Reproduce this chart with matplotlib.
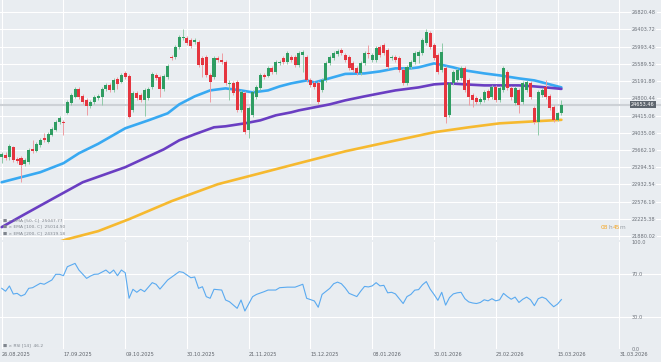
import numpy as np
import matplotlib
matplotlib.use("Agg")
import matplotlib.pyplot as plt
import matplotlib.transforms as mtrans
from matplotlib.ticker import NullLocator

# ---------------- data ----------------
dates = ['26.08.2025', '17.09.2025', '09.10.2025', '30.10.2025', '21.11.2025', '15.12.2025',
         '08.01.2026', '30.01.2026', '23.02.2026', '15.03.2026', '31.03.2026']
date_pos = [0, 16, 32, 48, 64, 80, 96, 112, 128, 144, 160]

open_ = [23507, 23550, 23507, 23721, 23464, 23486, 23358, 23401, 23678, 23635,
         23764, 23916, 23829, 23981, 24090, 24265, 24265, 24465, 24688, 24823,
         25003, 24845, 24755, 24621, 24710, 24800, 24823, 25003, 25094, 24980,
         25231, 25162, 25369, 25300, 24531, 24913, 24868, 24755, 24800, 25048,
         25323, 25277, 25003, 25277, 25740, 25740, 25975, 26188, 26188, 26140,
         26093, 26093, 25717, 25740, 25323, 25277, 25717, 25670, 25624, 25117,
         25140, 25162, 24531, 24913, 24090, 24420, 24823, 25026, 25323, 25300,
         25485, 25392, 25601, 25717, 25624, 25740, 25740, 25554, 25787, 25740,
         25208, 25140, 25140, 24980, 25208, 25601, 25717, 25811, 25904, 25787,
         25740, 25601, 25485, 25369, 25601, 25834, 25670, 25670, 25975, 26022,
         25904, 25717, 25740, 25717, 25438, 25140, 25508, 25624, 25764, 25834,
         26069, 26307, 26022, 25787, 25438, 25485, 24420, 25140, 25208, 25254,
         25485, 25208, 24868, 24800, 24710, 24755, 24958, 24823, 25048, 24755,
         24980, 25392, 25026, 24688, 24980, 24710, 24980, 25140, 24576, 24265,
         24868, 25048, 24845, 24598, 24309, 24465]
high = [23613, 23613, 23786, 23742, 23507, 23528, 23486, 23699, 23872, 23829,
        23916, 24025, 24047, 24156, 24309, 24398, 24309, 24755, 24913, 25048,
        25048, 24890, 24800, 24755, 24868, 24890, 25048, 25140, 25140, 25254,
        25277, 25369, 25415, 25346, 24958, 24958, 24913, 25026, 25048, 25392,
        25369, 25323, 25346, 25577, 25787, 26022, 26260, 26403, 26236, 26188,
        26188, 26140, 25764, 25787, 25369, 25764, 25764, 25834, 25670, 25208,
        25185, 25208, 24980, 24958, 24621, 24980, 25094, 25369, 25369, 25531,
        25531, 25670, 25670, 25764, 25881, 25787, 25787, 25881, 25904, 25787,
        25254, 25185, 25185, 25254, 25647, 25787, 25881, 25928, 25951, 25834,
        25787, 25647, 25531, 25647, 25881, 26022, 25834, 25998, 26022, 26069,
        25951, 25787, 25787, 25764, 25485, 25554, 25670, 25881, 25904, 26188,
        26403, 26355, 26069, 25834, 26069, 25531, 25162, 25438, 25485, 25531,
        25531, 25254, 24913, 24845, 24823, 24980, 25003, 25094, 25094, 25071,
        25531, 25438, 25071, 25071, 25026, 25185, 25208, 25185, 24621, 24980,
        25026, 25208, 24890, 24643, 24487, 24755]
low = [23379, 23443, 23443, 23401, 23379, 22979, 23316, 23358, 23592, 23613,
       23721, 23829, 23807, 23959, 24069, 24222, 23981, 24443, 24643, 24800,
       24778, 24665, 24420, 24576, 24665, 24755, 24643, 24958, 24935, 24935,
       25003, 25140, 25231, 24354, 24487, 24755, 24710, 24398, 24755, 25003,
       25208, 24823, 24958, 25231, 25670, 25694, 25928, 26140, 26022, 25951,
       26045, 25508, 25277, 25277, 24710, 25231, 25624, 25577, 25094, 24755,
       24868, 24487, 24487, 24003, 23916, 24376, 24778, 24980, 25231, 25277,
       25346, 25346, 25554, 25577, 25577, 25624, 25508, 25508, 25392, 25162,
       25048, 25003, 24665, 24935, 25162, 25554, 25670, 25764, 25787, 25624,
       25438, 25392, 25323, 25323, 25554, 25717, 25624, 25624, 25740, 25787,
       25461, 25670, 25624, 25392, 25094, 25094, 25461, 25577, 25601, 25787,
       26022, 25928, 25670, 25346, 25392, 24243, 24376, 25094, 25162, 25208,
       24935, 24643, 24598, 24665, 24665, 24710, 24755, 24778, 24710, 24710,
       24935, 24980, 24755, 24643, 24465, 24665, 24935, 24778, 24222, 23981,
       24823, 24778, 24531, 24265, 24287, 24420]
close = [23571, 23486, 23742, 23443, 23422, 23337, 23443, 23656, 23635, 23786,
         23872, 23872, 24003, 24112, 24265, 24354, 24243, 24710, 24868, 25003,
         24823, 24710, 24621, 24710, 24823, 24845, 25003, 25094, 24980, 25208,
         25117, 25323, 25277, 24376, 24913, 24800, 24755, 24980, 25003, 25346,
         25254, 25003, 25300, 25531, 25717, 25975, 26212, 26212, 26069, 25998,
         26140, 25554, 25554, 25323, 25162, 25717, 25670, 25624, 25140, 25140,
         24913, 24531, 24935, 24047, 24576, 24935, 25048, 25323, 25277, 25485,
         25392, 25624, 25624, 25624, 25834, 25670, 25554, 25834, 25857, 25208,
         25094, 25048, 24710, 25208, 25601, 25740, 25834, 25881, 25834, 25670,
         25485, 25438, 25369, 25601, 25834, 25811, 25787, 25951, 25787, 25834,
         25508, 25740, 25670, 25438, 25140, 25508, 25624, 25834, 25857, 26140,
         26331, 25975, 25717, 25392, 25857, 24376, 25140, 25392, 25438, 25485,
         24980, 24823, 24755, 24710, 24778, 24935, 24800, 25048, 24755, 25026,
         25485, 25026, 24823, 25026, 24643, 25140, 25162, 24823, 24265, 24935,
         24980, 24823, 24576, 24309, 24465, 24653.46]
last_price = 24653.46

ema50_idx = [0, 5, 10, 16, 20, 25, 32, 38, 43, 46, 50, 54, 58, 62, 65, 69, 72, 75, 79, 81,
             83, 89, 94, 98, 102, 106, 108, 112, 114, 117, 120, 125, 129, 134, 138, 141, 145]
ema50 = [22979, 23084, 23189, 23380, 23592, 23796, 24134, 24309, 24465, 24665,
         24845, 24980, 25026, 24980, 24935, 24980, 25071, 25140, 25208, 25162,
         25208, 25357, 25369, 25415, 25485, 25485, 25508, 25601, 25566, 25508,
         25438, 25369, 25323, 25254, 25208, 25140, 25048]
ema100_idx = [0, 6, 13, 21, 32, 42, 46, 50, 55, 58, 63, 67, 71, 75, 77, 81, 85, 89, 94, 98,
              102, 108, 112, 116, 120, 125, 129, 134, 138, 141, 145]
ema100 = [22060, 22322, 22627, 22979, 23295, 23677, 23872, 24003, 24156, 24178,
          24243, 24309, 24420, 24487, 24531, 24598, 24665, 24755, 24845, 24913,
          24980, 25048, 25117, 25140, 25117, 25094, 25094, 25094, 25071, 25048, 25014]
ema200_idx = [0, 12, 17, 25, 33, 44, 56, 67, 77, 89, 98, 106, 112, 121, 129, 138, 145]
ema200 = [21466, 21701, 21820, 21980, 22220, 22587, 22938, 23168, 23380, 23634,
          23796, 23938, 24047, 24156, 24243, 24287, 24320]

rsi_idx = [0, 1, 2, 3, 4, 5, 6, 7, 8, 10,
           11, 13, 14, 15, 16, 17, 19, 20, 22, 23,
           24, 25, 27, 28, 29, 30, 31, 32, 33, 34,
           35, 36, 37, 39, 40, 41, 43, 46, 47, 49,
           50, 51, 52, 53, 54, 55, 57, 58, 59, 61,
           62, 63, 65, 66, 68, 69, 71, 72, 74, 76,
           78, 79, 81, 82, 83, 85] + list(range(86, 146))
rsi = [56.7, 54, 58.9, 51.4, 52, 49.5, 51, 56.7, 57.3, 61.4,
       60.5, 64.5, 69.8, 69.8, 68.5, 76.9, 80, 73.8, 66, 68.2,
       69.8, 70, 73.8, 70.7, 73.8, 68.5, 73.8, 71.3, 47.4, 55.8,
       53, 55.8, 53.6, 62, 60.5, 56, 64.5, 72.3, 71.6, 66.6,
       67.3, 56.7, 58.2, 48.9, 47.4, 55.8, 55.1, 45.8, 44.2, 38,
       45.8, 35.5, 48.9, 51, 53.6, 55.1, 55.1, 57.3, 57.8, 57.8,
       60.5, 47.4, 44.9, 39, 51, 56.7,
       61, 62.5, 61, 57, 52, 50.5, 49, 54, 58.5, 58,
       59, 62, 59, 59.5, 52.5, 53, 51.5, 47, 42.5, 49,
       51, 55, 55.5, 60, 63, 56, 51, 45.5, 53, 41,
       48, 51.5, 52.5, 53, 47, 44, 43, 42.5, 43.5, 46,
       45, 47, 45, 46, 52, 49, 46.5, 48.5, 43.5, 46.5,
       48.5, 46, 40.5, 47, 48.5, 47, 43, 39.5, 42, 46.2]

price_ticks = [26820.48, 26403.72, 25993.43, 25589.52, 25191.89, 24800.44, 24415.06,
               24035.08, 23662.19, 23294.51, 22932.54, 22576.19, 22225.38, 21880.02]
rsi_ticks = [0, 30, 70, 100]

legend_rows = ['■ × EMA [50, C]  25047.77', '■ × EMA [100, C]  25014.90', '■ × EMA [200, C]  24319.18']
rsi_legend = '■ × RSI [14]  46.2'

# ---------------- layout ----------------
W, H = 661, 362
BG = '#e9edf1'
GREEN = '#2f9d62'
RED = '#e5353f'
TXT = '#6d727a'

fig = plt.figure(figsize=(W / 100, H / 100), dpi=100)
fig.patch.set_facecolor(BG)


def box(x0, y0, x1, y1):
    return [x0 / W, 1 - y1 / H, (x1 - x0) / W, (y1 - y0) / H]


def ftext(x, y, s, **kw):
    fig.text(x / W, 1 - y / H, s, va='center', ha='left', **kw)


ax = fig.add_axes(box(0, 0, W, 240))
ax2 = fig.add_axes(box(0, 242, W, 349), sharex=ax)
for a in (ax, ax2):
    a.set_facecolor(BG)
    for s in a.spines.values():
        s.set_visible(False)
    a.set_axisbelow(True)

ax.set_xlim(-1.7 / 3.86, (W - 1.7) / 3.86)

# price panel
ax.set_yscale('log')
ax.set_ylim(21803.4, 27119.6)
ax.set_yticks(price_ticks)
ax.set_yticklabels([f'{v:.2f}' for v in price_ticks])
ax.yaxis.set_minor_locator(NullLocator())
ax.yaxis.tick_right()
ax.tick_params(axis='y', length=0, pad=-21, labelsize=3.6, labelcolor=TXT)
ax.tick_params(axis='x', length=0, labelbottom=False)
ax.grid(True, color='white', lw=0.8)
for t in ax.get_yticklabels():
    t.set_bbox(dict(fc=BG, ec='none', pad=0.6))

ax.axhline(last_price, color='#cdd1d6', lw=1.5, zorder=1.5)

x = np.arange(len(close))
o = np.array(open_, dtype=float)
c = np.array(close, dtype=float)
up = c >= o
ax.vlines(x, low, high, colors=np.where(up, '#8fcaa8', '#ef9ca2'), lw=0.7, zorder=3)
ax.bar(x, np.maximum(np.abs(c - o), 10), bottom=np.minimum(o, c), width=0.78,
       color=np.where(up, GREEN, RED), lw=0, zorder=4)

ax.plot(ema50_idx, ema50, color='#38a9f2', lw=1.9, zorder=2.6, solid_capstyle='round')
ax.plot(ema100_idx, ema100, color='#6a3ec2', lw=1.9, zorder=2.6, solid_capstyle='round')
ax.plot(ema200_idx, ema200, color='#f6b92f', lw=1.9, zorder=2.6, solid_capstyle='round')

tr = mtrans.blended_transform_factory(ax.transAxes, ax.transData)
ax.text(631 / W, last_price, f'{last_price:.2f}', transform=tr, ha='left', va='center',
        fontsize=3.6, color='white', zorder=6,
        bbox=dict(fc='#5d656e', ec='none', pad=0.8))

# rsi panel
ax2.set_ylim(0, 100)
ax2.set_yticks(rsi_ticks)
ax2.set_yticklabels([f'{v:.1f}' for v in rsi_ticks])
ax2.yaxis.tick_right()
ax2.tick_params(axis='y', length=0, pad=-21, labelsize=3.6, labelcolor=TXT)
ax2.set_xticks(date_pos)
ax2.set_xticklabels(dates, ha='left')
ax2.tick_params(axis='x', length=0, pad=2.0, labelsize=3.6, labelcolor='#5f646b')
ax2.grid(True, axis='x', color='white', lw=0.8)
for lvl in (0, 30, 70):
    ax2.axhline(lvl, color='white', lw=0.8, zorder=0.5)
ax2.plot(rsi_idx, rsi, color='#5aaaf0', lw=0.8, zorder=3)

# legends and countdown
for k, row in enumerate(legend_rows):
    ftext(3, 220 + 6.5 * k, row, fontsize=3.2, color='#80868e')
ftext(3, 345, rsi_legend, fontsize=3.2, color='#80868e')

ftext(601, 228, '08', fontsize=4.2, color='#f5a623')
ftext(608.4, 228, 'h', fontsize=4.2, color='#9aa0a6')
ftext(612.5, 228, '45', fontsize=4.2, color='#f5a623')
ftext(620, 228, 'm', fontsize=4.2, color='#9aa0a6')

fig.savefig('out.png', dpi=100, facecolor=BG)
